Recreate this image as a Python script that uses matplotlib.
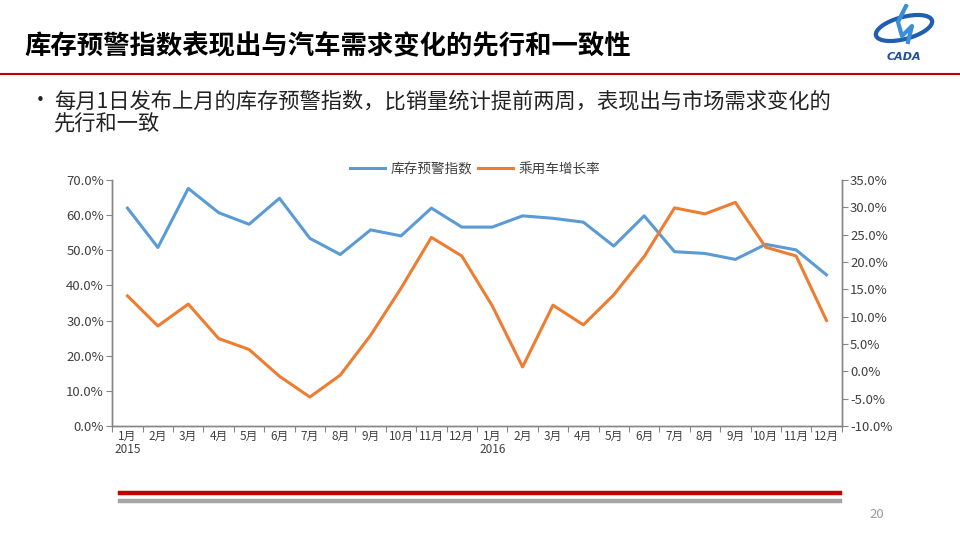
import matplotlib
matplotlib.use("Agg")
import matplotlib.pyplot as plt
from matplotlib.patches import Ellipse
from matplotlib.ticker import FuncFormatter, MultipleLocator

plt.rcParams['font.family'] = ['Noto Sans CJK SC', 'DejaVu Sans']

title = "库存预警指数表现出与汽车需求变化的先行和一致性"
bullet_lines = ["每月1日发布上月的库存预警指数，比销量统计提前两周，表现出与市场需求变化的",
                "先行和一致"]
months = ["1月\n2015", "2月", "3月", "4月", "5月", "6月", "7月", "8月", "9月", "10月", "11月", "12月",
          "1月\n2016", "2月", "3月", "4月", "5月", "6月", "7月", "8月", "9月", "10月", "11月", "12月"]
series_names = ["库存预警指数", "乘用车增长率"]
inventory_index = [62.0, 50.8, 67.6, 60.7, 57.4, 64.8, 53.4, 48.8, 55.8, 54.1, 62.0, 56.6,
                   56.6, 59.8, 59.1, 58.0, 51.2, 59.8, 49.6, 49.1, 47.4, 51.7, 50.1, 43.0]
car_growth = [13.8, 8.3, 12.3, 6.0, 4.0, -0.9, -4.7, -0.7, 6.6, 15.2, 24.5, 21.1,
              12.0, 0.8, 12.1, 8.5, 14.0, 21.0, 29.9, 28.8, 30.9, 22.7, 21.1, 9.3]
page_number = "20"

blue = "#5B9BD5"
orange = "#ED7D31"
axis_grey = "#868686"
text_col = "#404040"

fig = plt.figure(figsize=(9.6, 5.4), dpi=100)
fig.patch.set_facecolor("white")

# Header
fig.text(24 / 960, 1 - 47 / 540, title, fontsize=19, fontweight="bold", color="black",
         ha="left", va="center")
fig.add_artist(plt.Line2D([0, 1], [1 - 74 / 540, 1 - 74 / 540], color="#C00000", lw=1.5,
                          transform=fig.transFigure))
fig.text(30 / 960, 1 - 101 / 540, "•", fontsize=15, color="#222222", ha="left", va="center")
for i, line in enumerate(bullet_lines):
    fig.text(54 / 960, 1 - (101 + 23.5 * i) / 540, line, fontsize=15.3, color="#222222",
             ha="left", va="center")

# Simple logo approximation
logo_ax = fig.add_axes([868 / 960, 1 - 62 / 540, 76 / 960, 58 / 540])
logo_ax.set_xlim(0, 76)
logo_ax.set_ylim(0, 58)
logo_ax.axis("off")
logo_ax.add_patch(Ellipse((36, 34), 58, 22, angle=15, fill=False, ec="#1F5FAF", lw=3))
logo_ax.plot([38, 30, 34, 44, 40], [56, 40, 26, 36, 20], color="#3A8FD8", lw=3)
logo_ax.text(36, 5, "CADA", fontsize=8, fontstyle="italic", fontweight="bold", color="#1F4FA0",
             ha="center", va="center", family="DejaVu Sans")

# Chart
ax = fig.add_axes([112.3 / 960, 1 - 426 / 540, (841.7 - 112.3) / 960, (426 - 180) / 540])
ax2 = ax.twinx()
x = list(range(len(months)))
l1, = ax.plot(x, inventory_index, color=blue, lw=2.2, solid_joinstyle="round")
l2, = ax2.plot(x, car_growth, color=orange, lw=2.2, solid_joinstyle="round")

ax.set_xlim(-0.5, len(months) - 0.5)
ax.set_ylim(0, 70)
ax2.set_ylim(-10, 35)
ax.yaxis.set_major_locator(MultipleLocator(10))
ax2.yaxis.set_major_locator(MultipleLocator(5))
ax.yaxis.set_major_formatter(FuncFormatter(lambda v, p: f"{v:.1f}%"))
ax2.yaxis.set_major_formatter(FuncFormatter(lambda v, p: f"{v:.1f}%"))

ax.set_xticks([i - 0.5 for i in range(len(months) + 1)])
ax.set_xticklabels([])
ax.set_xticks(x, minor=True)
ax.set_xticklabels(months, minor=True, fontsize=8.5, color=text_col, va="top", linespacing=1.0)
ax.tick_params(axis="x", which="major", length=4, color=axis_grey, direction="out")
ax.tick_params(axis="x", which="minor", length=0, pad=3)
ax.tick_params(axis="y", length=4, color=axis_grey, labelsize=9.5, labelcolor=text_col, pad=2)
ax2.tick_params(axis="y", length=4, color=axis_grey, labelsize=9.5, labelcolor=text_col, pad=2)

for a in (ax, ax2):
    a.spines["top"].set_visible(False)
    for s in ("left", "right", "bottom"):
        a.spines[s].set_color(axis_grey)
        a.spines[s].set_linewidth(1.0)

leg = fig.legend([l1, l2], series_names, loc="center", bbox_to_anchor=(475 / 960, 1 - 169 / 540),
                 ncol=2, frameon=False, fontsize=9.8, handlelength=2.6, handletextpad=0.4,
                 columnspacing=0.4, labelcolor=text_col)

# Footer bars
fig.add_artist(plt.Line2D([120 / 960, 840 / 960], [1 - 493 / 540, 1 - 493 / 540],
                          color="#C00000", lw=3.2, transform=fig.transFigure))
fig.add_artist(plt.Line2D([120 / 960, 840 / 960], [1 - 500.5 / 540, 1 - 500.5 / 540],
                          color="#A6A6A6", lw=3.2, transform=fig.transFigure))
fig.text(877 / 960, 1 - 515 / 540, page_number, fontsize=9.5, color="#9A9A9A",
         ha="center", va="center")

fig.savefig("out.png", dpi=100)
